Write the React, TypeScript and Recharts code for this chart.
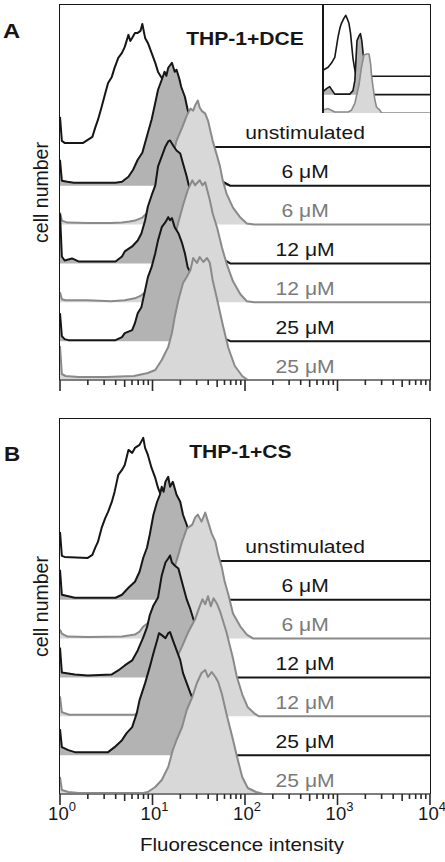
import React from 'react';
import { ComposedChart, Area, XAxis, YAxis, ReferenceDot } from 'recharts';

type Pt = [number, number];

// x = log10(fluorescence intensity), y = cell count (same scale for every histogram)
// panel A: THP-1 + DCE, top histogram first
const dceUnstim: Pt[] = [[0, 30], [0.02, 6], [0.05, 4], [0.15, 4], [0.25, 4], [0.3, 7], [0.35, 10], [0.38, 19], [0.41, 27], [0.45, 40], [0.49, 54], [0.52, 64], [0.56, 70], [0.59, 79], [0.63, 89], [0.67, 94], [0.7, 100], [0.74, 112], [0.76, 106], [0.78, 109], [0.81, 114], [0.84, 114], [0.87, 116], [0.89, 123], [0.92, 109], [0.95, 104], [0.99, 94], [1.03, 84], [1.06, 75], [1.1, 69], [1.19, 50], [1.3, 28], [1.41, 12], [1.51, 5], [1.6, 1], [1.68, 0], [4, 0]];
const dce6Black: Pt[] = [[0, 26], [0.02, 5], [0.08, 4], [0.15, 3], [0.4, 3], [0.6, 3], [0.67, 4], [0.74, 9], [0.79, 16], [0.84, 26], [0.89, 33], [0.92, 43], [0.95, 53], [0.99, 66], [1.03, 83], [1.06, 96], [1.1, 106], [1.13, 114], [1.15, 110], [1.17, 118], [1.21, 123], [1.24, 114], [1.26, 116], [1.29, 107], [1.31, 99], [1.35, 89], [1.38, 76], [1.45, 52], [1.56, 26], [1.67, 10], [1.78, 3], [1.84, 0], [4, 0]];
const dce6Gray: Pt[] = [[0, 12], [0.02, 4], [0.08, 2], [0.3, 1.5], [0.55, 1.5], [0.67, 2], [0.75, 3], [0.81, 4], [0.89, 7], [0.97, 14], [1.08, 32], [1.19, 58], [1.26, 84], [1.32, 97], [1.37, 109], [1.41, 116], [1.44, 114], [1.46, 119], [1.49, 124], [1.51, 117], [1.53, 114], [1.57, 111], [1.6, 104], [1.65, 84], [1.7, 68], [1.73, 58], [1.76, 44], [1.8, 31], [1.87, 17], [1.95, 7], [2.02, 1], [2.1, 0], [4, 0]];
const dce12Black: Pt[] = [[0, 50], [0.02, 7], [0.05, 3], [0.13, 5], [0.2, 2], [0.4, 2], [0.6, 2], [0.67, 7], [0.7, 12], [0.78, 17], [0.81, 20], [0.84, 23], [0.88, 30], [0.92, 43], [0.95, 57], [0.99, 68], [1.03, 78], [1.06, 97], [1.1, 107], [1.14, 117], [1.17, 122], [1.19, 123], [1.21, 120], [1.23, 117], [1.26, 113], [1.3, 110], [1.33, 100], [1.37, 87], [1.4, 75], [1.45, 56], [1.55, 32], [1.65, 14], [1.75, 5], [1.84, 0], [4, 0]];
const dce12Gray: Pt[] = [[0, 10], [0.02, 3], [0.06, 2], [0.3, 2], [0.55, 1], [0.7, 2], [0.81, 4], [0.88, 7], [0.92, 10], [0.99, 15], [1.08, 30], [1.17, 48], [1.24, 66], [1.28, 80], [1.33, 97], [1.38, 112], [1.43, 122], [1.46, 117], [1.48, 119], [1.51, 122], [1.54, 117], [1.57, 120], [1.62, 102], [1.65, 89], [1.7, 74], [1.75, 55], [1.8, 39], [1.87, 21], [1.95, 8], [2.02, 1], [2.1, 0], [4, 0]];
const dce25Black: Pt[] = [[0, 28], [0.02, 5], [0.05, 2], [0.09, 1], [0.6, 1], [0.67, 4], [0.7, 8], [0.78, 11], [0.81, 18], [0.84, 28], [0.88, 34], [0.92, 51], [0.95, 64], [0.99, 74], [1.03, 88], [1.06, 101], [1.1, 114], [1.14, 119], [1.17, 124], [1.19, 121], [1.21, 123], [1.24, 114], [1.28, 108], [1.32, 98], [1.35, 88], [1.38, 74], [1.41, 69], [1.46, 52], [1.55, 30], [1.65, 12], [1.75, 4], [1.84, 0], [4, 0]];
const dce25Gray: Pt[] = [[0, 34], [0.02, 6], [0.06, 4], [0.2, 3], [0.5, 3], [0.8, 4], [0.95, 7], [1.03, 10], [1.1, 20], [1.17, 33], [1.21, 47], [1.24, 63], [1.28, 80], [1.33, 97], [1.37, 103], [1.41, 110], [1.44, 122], [1.48, 117], [1.51, 123], [1.55, 118], [1.59, 122], [1.62, 117], [1.65, 100], [1.7, 80], [1.76, 55], [1.82, 32], [1.89, 14], [1.97, 4], [2.03, 0], [4, 0]];

// panel B: THP-1 + CS
const csUnstim: Pt[] = [[0, 29], [0.02, 5], [0.05, 4], [0.3, 3], [0.35, 6], [0.38, 13], [0.41, 19], [0.45, 33], [0.49, 43], [0.52, 49], [0.56, 59], [0.59, 69], [0.63, 86], [0.67, 91], [0.7, 96], [0.74, 111], [0.78, 108], [0.81, 113], [0.86, 116], [0.9, 123], [0.92, 113], [0.95, 106], [0.99, 93], [1.03, 83], [1.06, 73], [1.09, 66], [1.19, 45], [1.3, 25], [1.41, 10], [1.51, 4], [1.62, 1], [1.72, 0], [4, 0]];
const cs6Black: Pt[] = [[0, 30], [0.02, 5], [0.16, 2], [0.6, 2], [0.67, 5], [0.74, 12], [0.81, 18], [0.86, 28], [0.9, 42], [0.94, 52], [0.97, 65], [1.01, 85], [1.05, 98], [1.08, 105], [1.1, 113], [1.12, 108], [1.14, 118], [1.17, 123], [1.19, 113], [1.22, 118], [1.26, 105], [1.3, 98], [1.33, 85], [1.37, 75], [1.45, 50], [1.55, 28], [1.65, 12], [1.75, 4], [1.84, 0], [4, 0]];
const cs6Gray: Pt[] = [[0, 9], [0.02, 5], [0.08, 2], [0.3, 1.5], [0.67, 2], [0.81, 4], [0.86, 7], [0.9, 12], [0.99, 18], [1.08, 32], [1.17, 55], [1.24, 72], [1.28, 84], [1.32, 97], [1.37, 110], [1.43, 114], [1.46, 121], [1.49, 124], [1.53, 117], [1.57, 126], [1.6, 117], [1.64, 105], [1.68, 97], [1.71, 84], [1.75, 71], [1.78, 57], [1.82, 44], [1.87, 25], [1.95, 12], [2.02, 4], [2.09, 0], [4, 0]];
const cs12Black: Pt[] = [[0, 30], [0.02, 5], [0.09, 4], [0.16, 3], [0.3, 2], [0.56, 3], [0.63, 7], [0.7, 12], [0.78, 17], [0.84, 27], [0.9, 40], [0.94, 50], [0.97, 62], [1.01, 72], [1.06, 80], [1.1, 102], [1.14, 115], [1.17, 119], [1.19, 122], [1.21, 115], [1.24, 112], [1.28, 109], [1.32, 95], [1.37, 78], [1.41, 68], [1.44, 59], [1.5, 42], [1.6, 22], [1.7, 9], [1.8, 3], [1.87, 0], [4, 0]];
const cs12Gray: Pt[] = [[0, 20], [0.02, 4], [0.1, 1.5], [0.81, 1.5], [0.86, 5], [0.9, 10], [1.0, 15], [1.1, 25], [1.2, 45], [1.28, 62], [1.32, 70], [1.38, 83], [1.46, 97], [1.51, 110], [1.54, 117], [1.57, 112], [1.6, 120], [1.63, 110], [1.66, 118], [1.7, 112], [1.73, 105], [1.8, 84], [1.87, 58], [1.91, 40], [1.97, 22], [2.03, 9], [2.1, 3], [2.15, 0], [4, 0]];
const cs25Black: Pt[] = [[0, 26], [0.02, 8], [0.09, 5], [0.16, 3], [0.52, 3], [0.59, 8], [0.67, 15], [0.72, 22], [0.78, 28], [0.83, 42], [0.86, 55], [0.92, 72], [0.97, 88], [1.01, 102], [1.05, 115], [1.07, 122], [1.1, 120], [1.14, 117], [1.17, 122], [1.19, 123], [1.22, 115], [1.26, 105], [1.3, 95], [1.33, 82], [1.37, 72], [1.41, 62], [1.44, 55], [1.5, 40], [1.6, 22], [1.7, 9], [1.8, 3], [1.87, 0], [4, 0]];
const cs25Gray: Pt[] = [[0, 17], [0.02, 4], [0.09, 2], [0.2, 1], [0.9, 1], [0.95, 2], [1.03, 7], [1.1, 14], [1.17, 27], [1.22, 44], [1.26, 54], [1.32, 67], [1.37, 84], [1.43, 97], [1.48, 111], [1.53, 121], [1.57, 124], [1.6, 117], [1.64, 122], [1.68, 117], [1.71, 112], [1.75, 100], [1.8, 80], [1.86, 58], [1.92, 35], [1.97, 17], [2.03, 6], [2.12, 2], [2.2, 0], [4, 0]];

// inset of panel A (own scale), top histogram first
const insetUnstim: Pt[] = [[0, 6], [0.19, 9], [0.31, 13], [0.44, 19], [0.5, 29], [0.56, 39], [0.63, 48], [0.69, 53], [0.78, 58], [0.85, 61], [0.9, 58], [0.97, 53], [1.03, 43], [1.08, 29], [1.12, 18], [1.18, 8], [1.23, 2], [1.4, 1], [1.6, 0], [4, 0]];
const insetBlack: Pt[] = [[0, 3], [0.13, 6], [0.25, 8], [0.35, 4], [0.44, 0.5], [1.0, 0.5], [1.12, 4], [1.19, 14], [1.23, 34], [1.27, 54], [1.35, 59], [1.4, 61], [1.45, 54], [1.5, 41], [1.6, 28], [1.7, 14], [1.8, 5], [1.87, 0], [4, 0]];
const insetGray: Pt[] = [[0, 3], [0.19, 4.4], [0.31, 2.7], [0.44, 1], [0.94, 1], [1.06, 2.7], [1.19, 9.7], [1.27, 19], [1.35, 29], [1.44, 46], [1.53, 58], [1.63, 59], [1.72, 59], [1.78, 49], [1.81, 39], [1.87, 26], [1.94, 13], [2.0, 6], [2.13, 2.7], [2.19, 0], [4, 0]];

const doseLabels = ['unstimulated', '6 μM', '6 μM', '12 μM', '12 μM', '25 μM', '25 μM'];
const decades = [0, 1, 2, 3, 4];
const minorSteps = [2, 3, 4, 5, 6, 7, 8, 9];

const FONT = '"Liberation Sans", Arial, Helvetica, sans-serif';
const INK = '#161616';
const GRAY = '#8a8a8a';
const DARK = '#b3b3b3';
const LIGHT = '#d8d8d8';
const STRETCH = 1.14;
const STEP = 38.85; // vertical offset between stacked histograms
const INSET_STEP = 18.35;

const axisTicks = decades.flatMap((d) => (d < 4 ? [d, ...minorSteps.map((m) => d + Math.log10(m))] : [d]));

const toRows = (pts: Pt[]) => pts.map(([x, n]) => ({ x, n }));

const styleFor = (i: number) =>
  i === 0 ? { stroke: INK, fill: '#ffffff' } : i % 2 === 1 ? { stroke: INK, fill: DARK } : { stroke: GRAY, fill: LIGHT };

const stretchedText = (text: string, color: string, size: number, bold = false) => (props: any) => {
  const vb = props.viewBox || {};
  const cx = (vb.x ?? 0) + (vb.width ?? 0) / 2;
  const cy = (vb.y ?? 0) + (vb.height ?? 0) / 2;
  return (
    <text
      transform={`translate(${cx},${cy}) scale(${STRETCH},1)`}
      textAnchor="middle"
      fontSize={size}
      fontWeight={bold ? 700 : 400}
      fill={color}
      fontFamily={FONT}
    >
      {text}
    </text>
  );
};

const LogTick = (props: any) => {
  const { x, y, payload, showLabel } = props;
  const v = payload.value;
  const major = Math.abs(v - Math.round(v)) < 1e-6;
  const five = !major && Math.abs((v % 1) - Math.log10(5)) < 1e-6;
  const len = major ? 11 : five ? 7 : 5;
  return (
    <g>
      <line x1={x} x2={x} y1={y} y2={y + len} stroke="#2a2a2a" strokeWidth={1.6} />
      {major && showLabel && (
        <text x={x + 2} y={y + 26} textAnchor="middle" fontSize={18.5} fill={INK} fontFamily={FONT}>
          10
          <tspan dy={-9} fontSize={13}>
            {Math.round(v)}
          </tspan>
        </text>
      )}
    </g>
  );
};

interface PanelProps {
  traces: Pt[][];
  title: string;
  titleAt: [number, number];
  top: number;
  axisHeight: number;
  showTickLabels: boolean;
}

const HistogramPanel: React.FC<PanelProps> = ({ traces, title, titleAt, top, axisHeight, showTickLabels }) => {
  const n = traces.length;
  return (
    <div style={{ position: 'absolute', left: 0, top, width: 445, height: 380 + axisHeight }}>
      <ComposedChart width={445} height={380 + axisHeight} margin={{ top: 5, right: 15, bottom: 0, left: 0 }}>
        <XAxis
          type="number"
          dataKey="x"
          domain={[0, 4]}
          allowDataOverflow
          ticks={axisTicks}
          interval={0}
          tickSize={0}
          tickMargin={0}
          tickLine={false}
          height={axisHeight}
          axisLine={{ stroke: '#7d7d7d', strokeWidth: 1.8 }}
          tick={(p: any) => <LogTick {...p} showLabel={showTickLabels} />}
          label={
            showTickLabels
              ? (p: any) => {
                  const vb = p.viewBox || {};
                  return (
                    <text
                      transform={`translate(${vb.x + vb.width / 2 - 3},${vb.y + 57}) scale(${STRETCH},1)`}
                      textAnchor="middle"
                      fontSize={18}
                      fill={INK}
                      fontFamily={FONT}
                    >
                      Fluorescence intensity
                    </text>
                  );
                }
              : undefined
          }
        />
        <YAxis
          type="number"
          domain={[0, 375]}
          allowDataOverflow
          width={60}
          tick={false}
          tickLine={false}
          axisLine={false}
          label={(p: any) => {
            const vb = p.viewBox || {};
            return (
              <text
                transform={`translate(${vb.x + 48},${vb.y + vb.height / 2}) rotate(-90)`}
                textAnchor="middle"
                fontSize={19.5}
                fill={INK}
                fontFamily={FONT}
              >
                cell number
              </text>
            );
          }}
        />
        {traces.map((pts, i) => {
          const offset = (n - 1 - i) * STEP;
          const s = styleFor(i);
          return (
            <Area
              key={`t${i}`}
              data={toRows(pts)}
              dataKey={(d: any) => d.n + offset}
              baseValue={offset}
              type="linear"
              stroke={s.stroke}
              strokeWidth={2}
              strokeLinejoin="round"
              fill={s.fill}
              fillOpacity={1}
              dot={false}
              activeDot={false}
              isAnimationActive={false}
            />
          );
        })}
        {doseLabels.map((lab, i) => {
          const offset = (n - 1 - i) * STEP;
          const color = i % 2 === 0 && i > 0 ? '#7a7a7a' : INK;
          return (
            <ReferenceDot
              key={`l${i}`}
              x={2.65}
              y={offset + 7.5}
              r={0}
              fill="none"
              stroke="none"
              label={stretchedText(lab, color, 18.5)}
            />
          );
        })}
        <ReferenceDot x={titleAt[0]} y={titleAt[1]} r={0} fill="none" stroke="none" label={stretchedText(title, INK, 18.5, true)} />
      </ComposedChart>
      <div
        style={{
          position: 'absolute',
          left: 59,
          top: 4,
          width: 372,
          height: 376,
          boxSizing: 'border-box',
          borderTop: `1.8px solid ${INK}`,
          borderLeft: `1.8px solid ${INK}`,
          borderRight: `1.8px solid ${INK}`,
          pointerEvents: 'none',
        }}
      />
    </div>
  );
};

const Inset: React.FC = () => {
  const traces = [insetUnstim, insetBlack, insetGray];
  return (
    <div style={{ position: 'absolute', left: 323, top: 5, width: 107, height: 108, background: '#fff' }}>
      <ComposedChart width={107} height={108} margin={{ top: 0, right: 0, bottom: 0, left: 0 }}>
        <XAxis type="number" dataKey="x" domain={[0, 4]} allowDataOverflow hide />
        <YAxis type="number" domain={[0, 108]} allowDataOverflow hide />
        {traces.map((pts, i) => {
          const offset = (traces.length - 1 - i) * INSET_STEP;
          const s = styleFor(i);
          return (
            <Area
              key={`i${i}`}
              data={toRows(pts)}
              dataKey={(d: any) => d.n + offset}
              baseValue={offset}
              type="linear"
              stroke={s.stroke}
              strokeWidth={1.6}
              strokeLinejoin="round"
              fill={s.fill}
              fillOpacity={1}
              dot={false}
              activeDot={false}
              isAnimationActive={false}
            />
          );
        })}
      </ComposedChart>
      <div style={{ position: 'absolute', left: -1, top: 0, width: 1.8, height: 108, background: INK }} />
    </div>
  );
};

export default function App() {
  return (
    <div style={{ position: 'absolute', left: 0, top: 0, width: 445, height: 862, background: '#fff', fontFamily: FONT }}>
      <HistogramPanel
        traces={[dceUnstim, dce6Black, dce6Gray, dce12Black, dce12Gray, dce25Black, dce25Gray]}
        title="THP-1+DCE"
        titleAt={[2.0, 335]}
        top={0}
        axisHeight={15}
        showTickLabels={false}
      />
      <Inset />
      <HistogramPanel
        traces={[csUnstim, cs6Black, cs6Gray, cs12Black, cs12Gray, cs25Black, cs25Gray]}
        title="THP-1+CS"
        titleAt={[1.95, 336]}
        top={414}
        axisHeight={60}
        showTickLabels={true}
      />
      <svg width={445} height={862} style={{ position: 'absolute', left: 0, top: 0, pointerEvents: 'none' }}>
        <text transform="translate(3,38) scale(1.22,1)" fontSize={19.5} fontWeight={700} fill={INK} fontFamily={FONT}>
          A
        </text>
        <text transform="translate(4,461) scale(1.15,1)" fontSize={19.5} fontWeight={700} fill={INK} fontFamily={FONT}>
          B
        </text>
      </svg>
    </div>
  );
}
